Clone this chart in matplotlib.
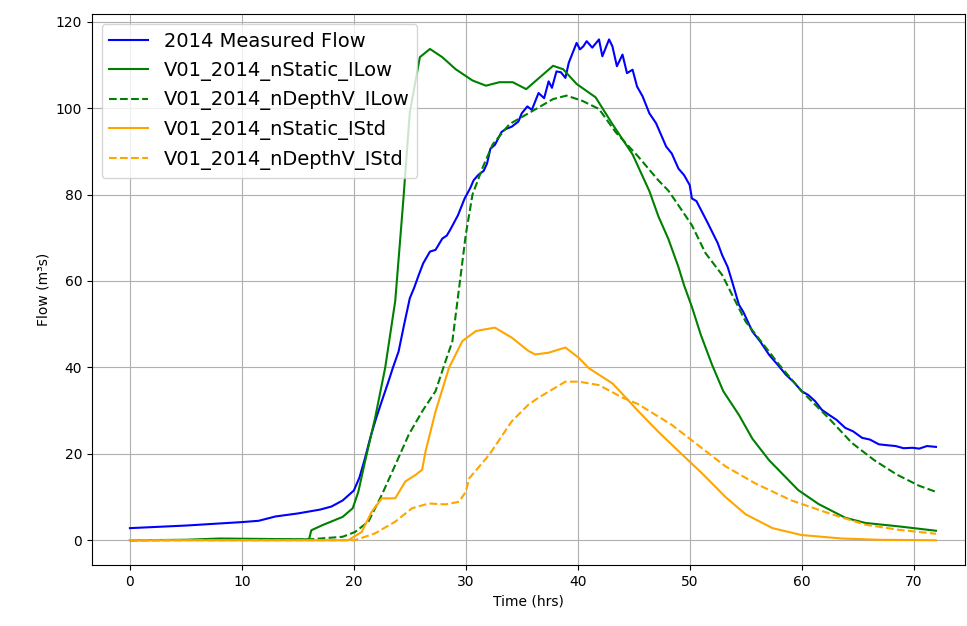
import matplotlib
matplotlib.use('Agg')
import matplotlib.pyplot as plt

# measured flow
meas_t = [0, 5, 10, 11.5, 13, 15, 17, 18, 19, 20, 20.5, 21, 21.5, 22, 22.5, 23.1, 23.5, 24,
          24.5, 25, 25.4, 25.8, 26.2, 26.8, 27.3, 27.9, 28.3, 28.6, 29.3, 29.9, 30.4, 30.7, 31.1,
          31.6, 31.9, 32.2, 32.6, 33.2, 33.6, 34.1, 34.7, 35.0, 35.5, 35.9, 36.5, 37.0, 37.4, 37.7,
          38.1, 38.5, 38.9, 39.2, 39.9, 40.2, 40.5, 40.8, 41.3, 41.9, 42.2, 42.8, 43.1, 43.5, 44.0,
          44.4, 44.9, 45.3, 45.8, 46.4, 47.0, 47.9, 48.4, 49.0, 49.5, 50.0, 50.2, 50.6, 51.1, 51.6,
          52.0, 52.5, 52.9, 53.4, 53.8, 54.4, 54.8, 55.6, 56.3, 57.1, 57.8, 58.6, 59.3, 60, 60.6,
          61.2, 61.8, 62.4, 63.1, 63.9, 64.6, 65.4, 66.1, 66.9, 67.6, 68.4, 69.1, 69.9, 70.5,
          71.2, 72]
meas_q = [2.8, 3.4, 4.2, 4.5, 5.5, 6.2, 7.1, 7.8, 9.2, 11.5, 14.5, 19, 24, 28.3, 32.2, 36.8, 40, 43.7,
          50, 56, 58.5, 61.4, 64.1, 66.8, 67.2, 69.8, 70.5, 71.8, 75.2, 79.1, 81.5, 83.3, 84.5,
          85.5, 87.2, 90.6, 91.5, 94.5, 95.2, 95.7, 96.9, 98.8, 100.4, 99.6, 103.5, 102.3, 106.2, 104.7,
          108.5, 108.3, 107, 110.5, 115.1, 113.6, 114.3, 115.5, 114, 115.9, 112, 115.9, 114.3, 109.7, 112.4,
          108.1, 108.9, 105, 102.7, 98.8, 96.5, 91.1, 89.5, 86, 84.5, 82.2, 79.1, 78.5, 76, 73.5,
          71.4, 68.8, 66, 63.2, 59.8, 54.5, 52.8, 48.3, 46.0, 42.9, 40.8, 38.3, 36.6, 34.5, 33.6,
          32.2, 30.2, 29.1, 27.9, 26, 25.2, 23.7, 23.3, 22.2, 22.0, 21.8, 21.3, 21.4, 21.2,
          21.8, 21.6]

# V01_2014_nStatic_ILow
sl_t = [0, 5, 8, 12, 16, 16.2, 17.2, 19, 19.9, 20.4, 21, 21.9, 22.8, 23.7, 24.4, 25, 25.9, 26.8,
        27.9, 29.1, 30.6, 31.8, 33, 34.2, 35.4, 36.6, 37.8, 38.7, 39.9, 41.6, 43.1, 44.9, 46.4,
        47.2, 48.1, 49.0, 49.5, 50.2, 51, 52, 53, 54.4, 55.6, 57.1, 59.7, 61.5, 63.9, 65.7, 68.7, 72]
sl_q = [0, 0.1, 0.4, 0.3, 0.2, 2.3, 3.5, 5.4, 7.4, 11.2, 18.2, 28.3, 39.9, 55.4, 78, 99, 111.8, 113.7,
        111.8, 109, 106.4, 105.2, 106, 106, 104.4, 107.1, 109.8, 109, 105.6, 102.5, 96.3, 89.3, 80.8,
        75, 69.7, 63.2, 59, 54, 47.5, 40.6, 34.5, 29, 23.5, 18.5, 11.6, 8.4, 5.2, 4, 3.2, 2.2]

# V01_2014_nDepthV_ILow
dl_t = [0, 16, 19, 20.1, 21.3, 22.5, 23.7, 24.9, 26.1, 27.3, 28.2, 28.8, 29.4, 30, 30.6, 31.5,
        32.4, 33.9, 36, 37.8, 39, 40.4, 41.9, 43.4, 45.4, 47.2, 48.1, 49.0, 50.2, 51.4, 52.9, 55,
        58, 60, 62.4, 64.5, 66.5, 68.5, 70.5, 72]
dl_q = [0, 0.2, 0.8, 1.9, 4.3, 10.5, 17.4, 24.4, 29.8, 34.5, 41.5, 46, 58.3, 70.7, 80, 86.2,
        91.6, 96.3, 99.4, 102.1, 102.9, 101.7, 99.8, 94.4, 88.8, 83.3, 80.9, 77.5, 72.9, 66.5, 61.4, 50.6,
        40.6, 34.5, 28.3, 22.5, 18.5, 15.2, 12.6, 11.2]

# V01_2014_nStatic_IStd
ss_t = [0, 19.5, 20.7, 21.6, 22.5, 23.7, 24.6, 25.5, 26.1, 26.4, 27.3, 28.5, 29.7, 30.9, 31.7,
        32.6, 34.1, 35.6, 36.2, 37.4, 38.9, 40.1, 41, 43.1, 44.3, 45.4, 47.2, 49.3, 51.1, 53.2,
        55, 57.4, 60, 63.6, 67, 72]
ss_q = [0, 0, 1.9, 6.6, 9.7, 9.7, 13.6, 15.1, 16.3, 20.5, 29.8, 39.9, 46.1, 48.4, 48.8,
        49.2, 46.9, 43.8, 43, 43.4, 44.6, 42.2, 39.8, 36.3, 33, 29.9, 25.1, 19.9, 15.5, 10,
        6, 2.8, 1.2, 0.4, 0.1, 0]

# V01_2014_nDepthV_IStd
ds_t = [0, 20.1, 21.9, 23.7, 25.2, 26.7, 28.2, 29.4, 30, 30.3, 32.1, 34.1, 35.6, 36.5, 38.9,
        40.1, 41.9, 44, 45.4, 48.4, 50.8, 53.2, 55.9, 59.1, 62.7, 65.7, 68.7, 72]
ds_q = [0, 0, 1.6, 4.3, 7.4, 8.5, 8.3, 8.9, 11.2, 14.3, 19.8, 27.5, 31.4, 33, 36.7,
        36.7, 35.9, 33, 31.5, 26.7, 21.9, 17.1, 13.1, 9.2, 6, 3.6, 2.4, 1.5]

fig = plt.figure(figsize=(9.67, 6.26), dpi=100)
ax = fig.add_axes([0.095, 0.097, 0.903, 0.880])

ax.plot(meas_t, meas_q, color='blue', label='2014 Measured Flow')
ax.plot(sl_t, sl_q, color='green', label='V01_2014_nStatic_ILow')
ax.plot(dl_t, dl_q, color='green', linestyle='--', label='V01_2014_nDepthV_ILow')
ax.plot(ss_t, ss_q, color='orange', label='V01_2014_nStatic_IStd')
ax.plot(ds_t, ds_q, color='orange', linestyle='--', label='V01_2014_nDepthV_IStd')

ax.set_xlim(-3.4, 74.6)
ax.set_xlabel('Time (hrs)')
ax.set_ylabel('Flow (m³s)')
ax.grid(True)
ax.legend(loc='upper left', fontsize=14)

fig.savefig('out.png')
